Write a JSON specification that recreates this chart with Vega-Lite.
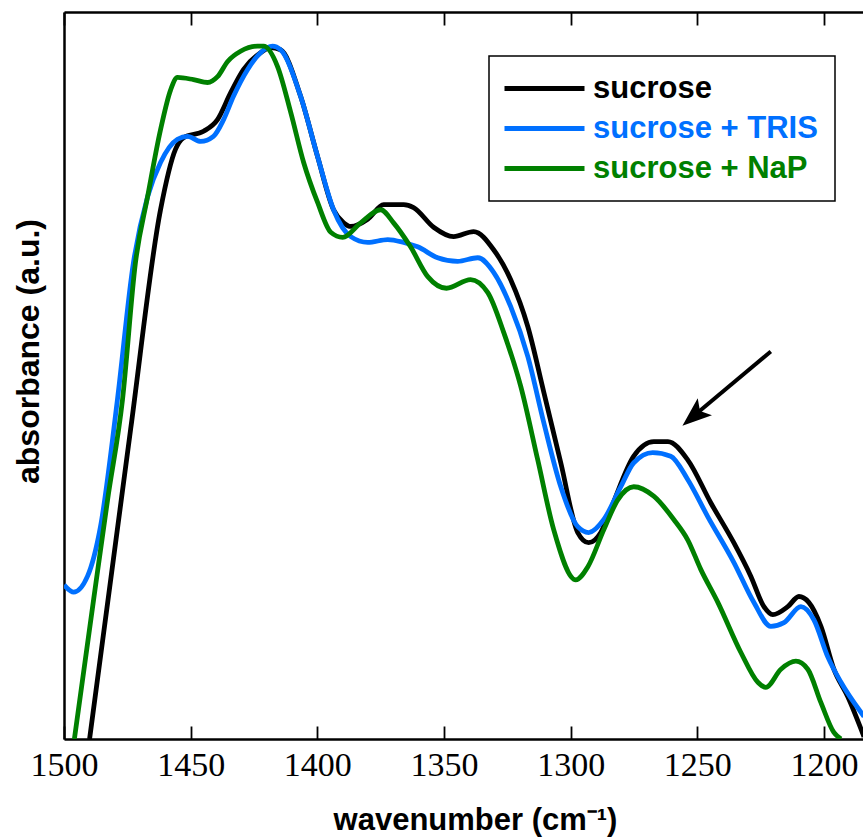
{
  "$schema": "https://vega.github.io/schema/vega-lite/v6.json",
  "width": 799,
  "height": 727,
  "autosize": {"type": "none"},
  "padding": {"left": 64, "top": 12, "right": 0, "bottom": 99},
  "config": {
    "view": {"stroke": null},
    "font": "Liberation Sans",
    "axis": {"domainColor": "black", "domainWidth": 2.5, "grid": false, "tickColor": "black", "tickWidth": 1.8, "titleColor": "black", "labelColor": "black"}
  },
  "resolve": {"axis": {"x": "independent"}},
  "layer": [
    {
      "data": {"values": [
        {"s":"sucrose","w":1489.9,"a":0},{"s":"sucrose","w":1473.7,"a":0.426},{"s":"sucrose","w":1461.9,"a":0.728},{"s":"sucrose","w":1456.0,"a":0.811},{"s":"sucrose","w":1452.8,"a":0.827},{"s":"sucrose","w":1444.9,"a":0.836},{"s":"sucrose","w":1439.4,"a":0.852},{"s":"sucrose","w":1434.2,"a":0.889},{"s":"sucrose","w":1429.1,"a":0.921},{"s":"sucrose","w":1422.4,"a":0.944},{"s":"sucrose","w":1418.5,"a":0.951},{"s":"sucrose","w":1414.5,"a":0.948},{"s":"sucrose","w":1406.6,"a":0.884},{"s":"sucrose","w":1399.9,"a":0.801},{"s":"sucrose","w":1393.6,"a":0.728},{"s":"sucrose","w":1389.6,"a":0.71},{"s":"sucrose","w":1386.8,"a":0.705},{"s":"sucrose","w":1380.1,"a":0.715},{"s":"sucrose","w":1373.8,"a":0.735},{"s":"sucrose","w":1365.9,"a":0.735},{"s":"sucrose","w":1362.0,"a":0.731},{"s":"sucrose","w":1354.1,"a":0.704},{"s":"sucrose","w":1346.2,"a":0.691},{"s":"sucrose","w":1338.3,"a":0.698},{"s":"sucrose","w":1330.4,"a":0.673},{"s":"sucrose","w":1323.7,"a":0.632},{"s":"sucrose","w":1316.9,"a":0.567},{"s":"sucrose","w":1310.6,"a":0.477},{"s":"sucrose","w":1303.9,"a":0.38},{"s":"sucrose","w":1297.2,"a":0.284},{"s":"sucrose","w":1292.9,"a":0.27},{"s":"sucrose","w":1288.1,"a":0.284},{"s":"sucrose","w":1284.2,"a":0.316},{"s":"sucrose","w":1275.1,"a":0.389},{"s":"sucrose","w":1267.2,"a":0.409},{"s":"sucrose","w":1261.6,"a":0.409},{"s":"sucrose","w":1253.8,"a":0.384},{"s":"sucrose","w":1244.7,"a":0.325},{"s":"sucrose","w":1235.6,"a":0.27},{"s":"sucrose","w":1228.9,"a":0.224},{"s":"sucrose","w":1223.7,"a":0.182},{"s":"sucrose","w":1220.2,"a":0.171},{"s":"sucrose","w":1214.3,"a":0.182},{"s":"sucrose","w":1209.9,"a":0.196},{"s":"sucrose","w":1206.0,"a":0.188},{"s":"sucrose","w":1201.2,"a":0.155},{"s":"sucrose","w":1196.1,"a":0.096},{"s":"sucrose","w":1190.6,"a":0.058},{"s":"sucrose","w":1184.2,"a":0.003},
        {"s":"sucrose + TRIS","w":1500.0,"a":0.212},{"s":"sucrose + TRIS","w":1496.2,"a":0.202},{"s":"sucrose + TRIS","w":1490.7,"a":0.224},{"s":"sucrose + TRIS","w":1485.6,"a":0.292},{"s":"sucrose + TRIS","w":1478.9,"a":0.467},{"s":"sucrose + TRIS","w":1472.6,"a":0.655},{"s":"sucrose + TRIS","w":1467.0,"a":0.746},{"s":"sucrose + TRIS","w":1461.9,"a":0.793},{"s":"sucrose + TRIS","w":1455.2,"a":0.825},{"s":"sucrose + TRIS","w":1451.2,"a":0.829},{"s":"sucrose + TRIS","w":1446.1,"a":0.822},{"s":"sucrose + TRIS","w":1441.0,"a":0.829},{"s":"sucrose + TRIS","w":1437.0,"a":0.852},{"s":"sucrose + TRIS","w":1433.1,"a":0.884},{"s":"sucrose + TRIS","w":1427.5,"a":0.921},{"s":"sucrose + TRIS","w":1422.4,"a":0.944},{"s":"sucrose + TRIS","w":1417.7,"a":0.953},{"s":"sucrose + TRIS","w":1414.5,"a":0.948},{"s":"sucrose + TRIS","w":1406.6,"a":0.884},{"s":"sucrose + TRIS","w":1399.9,"a":0.801},{"s":"sucrose + TRIS","w":1393.6,"a":0.728},{"s":"sucrose + TRIS","w":1386.8,"a":0.691},{"s":"sucrose + TRIS","w":1380.1,"a":0.683},{"s":"sucrose + TRIS","w":1372.2,"a":0.687},{"s":"sucrose + TRIS","w":1365.9,"a":0.683},{"s":"sucrose + TRIS","w":1360.4,"a":0.677},{"s":"sucrose + TRIS","w":1352.5,"a":0.662},{"s":"sucrose + TRIS","w":1344.6,"a":0.657},{"s":"sucrose + TRIS","w":1336.7,"a":0.662},{"s":"sucrose + TRIS","w":1330.4,"a":0.642},{"s":"sucrose + TRIS","w":1323.7,"a":0.595},{"s":"sucrose + TRIS","w":1316.9,"a":0.526},{"s":"sucrose + TRIS","w":1310.6,"a":0.435},{"s":"sucrose + TRIS","w":1303.9,"a":0.347},{"s":"sucrose + TRIS","w":1297.2,"a":0.292},{"s":"sucrose + TRIS","w":1292.9,"a":0.284},{"s":"sucrose + TRIS","w":1286.9,"a":0.302},{"s":"sucrose + TRIS","w":1280.2,"a":0.347},{"s":"sucrose + TRIS","w":1275.1,"a":0.38},{"s":"sucrose + TRIS","w":1267.6,"a":0.394},{"s":"sucrose + TRIS","w":1260.5,"a":0.389},{"s":"sucrose + TRIS","w":1253.8,"a":0.357},{"s":"sucrose + TRIS","w":1245.9,"a":0.306},{"s":"sucrose + TRIS","w":1235.6,"a":0.243},{"s":"sucrose + TRIS","w":1227.7,"a":0.188},{"s":"sucrose + TRIS","w":1221.0,"a":0.155},{"s":"sucrose + TRIS","w":1215.8,"a":0.16},{"s":"sucrose + TRIS","w":1209.1,"a":0.182},{"s":"sucrose + TRIS","w":1204.0,"a":0.164},{"s":"sucrose + TRIS","w":1198.5,"a":0.113},{"s":"sucrose + TRIS","w":1193.3,"a":0.078},{"s":"sucrose + TRIS","w":1184.2,"a":0.031},
        {"s":"sucrose + NaP","w":1495.9,"a":0},{"s":"sucrose + NaP","w":1488.3,"a":0.192},{"s":"sucrose + NaP","w":1482.8,"a":0.329},{"s":"sucrose + NaP","w":1476.9,"a":0.467},{"s":"sucrose + NaP","w":1471.8,"a":0.655},{"s":"sucrose + NaP","w":1467.0,"a":0.746},{"s":"sucrose + NaP","w":1461.9,"a":0.838},{"s":"sucrose + NaP","w":1457.9,"a":0.893},{"s":"sucrose + NaP","w":1455.2,"a":0.91},{"s":"sucrose + NaP","w":1448.9,"a":0.907},{"s":"sucrose + NaP","w":1443.3,"a":0.903},{"s":"sucrose + NaP","w":1439.4,"a":0.911},{"s":"sucrose + NaP","w":1435.4,"a":0.932},{"s":"sucrose + NaP","w":1430.3,"a":0.946},{"s":"sucrose + NaP","w":1423.6,"a":0.953},{"s":"sucrose + NaP","w":1421.2,"a":0.953},{"s":"sucrose + NaP","w":1415.7,"a":0.925},{"s":"sucrose + NaP","w":1410.5,"a":0.862},{"s":"sucrose + NaP","w":1405.4,"a":0.793},{"s":"sucrose + NaP","w":1399.9,"a":0.738},{"s":"sucrose + NaP","w":1394.7,"a":0.697},{"s":"sucrose + NaP","w":1390.0,"a":0.69},{"s":"sucrose + NaP","w":1382.9,"a":0.71},{"s":"sucrose + NaP","w":1375.0,"a":0.728},{"s":"sucrose + NaP","w":1369.9,"a":0.71},{"s":"sucrose + NaP","w":1363.2,"a":0.677},{"s":"sucrose + NaP","w":1356.4,"a":0.636},{"s":"sucrose + NaP","w":1349.0,"a":0.62},{"s":"sucrose + NaP","w":1339.5,"a":0.632},{"s":"sucrose + NaP","w":1332.7,"a":0.614},{"s":"sucrose + NaP","w":1326.4,"a":0.559},{"s":"sucrose + NaP","w":1319.7,"a":0.485},{"s":"sucrose + NaP","w":1313.0,"a":0.384},{"s":"sucrose + NaP","w":1306.7,"a":0.288},{"s":"sucrose + NaP","w":1298.0,"a":0.219},{"s":"sucrose + NaP","w":1293.2,"a":0.237},{"s":"sucrose + NaP","w":1286.9,"a":0.288},{"s":"sucrose + NaP","w":1281.4,"a":0.329},{"s":"sucrose + NaP","w":1275.1,"a":0.347},{"s":"sucrose + NaP","w":1267.2,"a":0.334},{"s":"sucrose + NaP","w":1259.3,"a":0.302},{"s":"sucrose + NaP","w":1253.8,"a":0.274},{"s":"sucrose + NaP","w":1248.6,"a":0.233},{"s":"sucrose + NaP","w":1241.9,"a":0.188},{"s":"sucrose + NaP","w":1232.8,"a":0.119},{"s":"sucrose + NaP","w":1226.1,"a":0.078},{"s":"sucrose + NaP","w":1223.0,"a":0.071},{"s":"sucrose + NaP","w":1217.0,"a":0.096},{"s":"sucrose + NaP","w":1211.1,"a":0.107},{"s":"sucrose + NaP","w":1206.4,"a":0.096},{"s":"sucrose + NaP","w":1201.2,"a":0.05},{"s":"sucrose + NaP","w":1196.1,"a":0.009},{"s":"sucrose + NaP","w":1193.3,"a":0}
      ]},
      "mark": {"type": "line", "strokeWidth": 4.8, "interpolate": "monotone", "clip": true},
      "encoding": {
        "x": {"field": "w", "type": "quantitative",
          "scale": {"domain": [1184.6, 1500], "reverse": true, "nice": false, "zero": false},
          "axis": {"orient": "bottom", "values": [1500, 1450, 1400, 1350, 1300, 1250, 1200], "format": "d", "tickSize": -13, "labelFlush": false, "labelOverlap": false, "labelFontSize": 34, "labelFont": "Liberation Sans Narrow", "labelPadding": 22,
            "title": "wavenumber (cm⁻¹)", "titleFontSize": 31, "titleFontWeight": "bold", "titleX": 411, "titleY": 90, "titleBaseline": "alphabetic", "titleAlign": "center"}},
        "y": {"field": "a", "type": "quantitative", "scale": {"domain": [0, 1], "nice": false, "zero": false},
          "axis": {"title": "absorbance (a.u.)", "ticks": false, "labels": false, "titleFontSize": 32, "titleFontWeight": "bold", "titleAngle": 270, "titleX": -36, "titleY": 339, "titleAlign": "center", "titleBaseline": "middle"}},
        "color": {"field": "s", "type": "nominal",
          "scale": {"domain": ["sucrose", "sucrose + TRIS", "sucrose + NaP"], "range": ["#000000", "#0070FF", "#008000"]},
          "legend": {"orient": "none", "legendX": 425, "legendY": 44, "title": null, "symbolType": "M-1.7,0L6.3,0", "symbolSize": 400, "symbolStrokeWidth": 5, "labelFontSize": 31, "labelFontWeight": "bold", "labelOffset": 56, "labelLimit": 500, "padding": 17, "rowPadding": 8, "strokeColor": "black", "fillColor": "white",
            "encode": {"legend": {"update": {"strokeWidth": {"value": 1.5}}}, "labels": {"update": {"fill": {"signal": "scale('color', datum.value)"}}}}}}
      }
    },
    {
      "data": {"values": [{"w": 1221.0, "a": 0.533, "w2": 1249.8, "a2": 0.449}]},
      "mark": {"type": "rule", "strokeWidth": 4, "color": "black"},
      "encoding": {
        "x": {"field": "w", "type": "quantitative",
          "scale": {"domain": [1184.6, 1500], "reverse": true, "nice": false, "zero": false},
          "axis": {"orient": "top", "values": [1500, 1450, 1400, 1350, 1300, 1250, 1200], "tickSize": -13, "labels": false, "title": null}},
        "x2": {"field": "w2"},
        "y": {"field": "a", "type": "quantitative", "scale": {"domain": [0, 1], "nice": false, "zero": false},
          "axis": {"title": "absorbance (a.u.)", "ticks": false, "labels": false, "titleFontSize": 32, "titleFontWeight": "bold", "titleAngle": 270, "titleX": -36, "titleY": 339, "titleAlign": "center", "titleBaseline": "middle"}},
        "y2": {"field": "a2"}
      }
    },
    {
      "data": {"values": [{"w": 1251.1, "a": 0.445}]},
      "mark": {"type": "point", "shape": "M0,-1L0.7,0.85L0,0.45L-0.7,0.85Z", "filled": true, "color": "black", "opacity": 1, "size": 1000, "angle": 230, "strokeWidth": 0},
      "encoding": {
        "x": {"field": "w", "type": "quantitative",
          "scale": {"domain": [1184.6, 1500], "reverse": true, "nice": false, "zero": false},
          "axis": null},
        "y": {"field": "a", "type": "quantitative", "scale": {"domain": [0, 1], "nice": false, "zero": false},
          "axis": {"title": "absorbance (a.u.)", "ticks": false, "labels": false, "titleFontSize": 32, "titleFontWeight": "bold", "titleAngle": 270, "titleX": -36, "titleY": 339, "titleAlign": "center", "titleBaseline": "middle"}}
      }
    }
  ]
}
